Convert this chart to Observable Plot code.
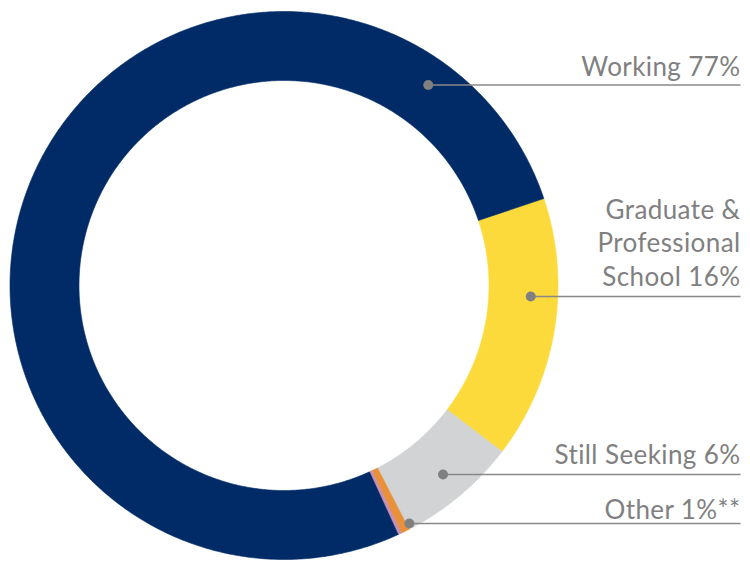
<!DOCTYPE html>
<html>
<head>
<meta charset="utf-8">
<script src="https://cdn.jsdelivr.net/npm/d3@7"></script>
<script src="https://cdn.jsdelivr.net/npm/@observablehq/plot@0.6"></script>
<style>
  html, body { margin: 0; padding: 0; background: #fff; }
  #chart svg { display: block; }
  #chart text { letter-spacing: 0.4px; }
</style>
</head>
<body>
<div id="chart"></div>
<script>
// ---- data ----
const categories = ["Graduate & Professional School", "Still Seeking", "Other", "Other (unspecified)", "Working"];
const shares = [15.5, 7.1, 0.5, 0.2, 76.7];
const sliceColors = ["#FDDA3C", "#D1D3D4", "#E8903A", "#C88DB6", "#002B66"];
const labelTexts = ["Working 77%", "Graduate &\nProfessional\nSchool 16%", "Still Seeking 6%", "Other 1%**"];

// ---- layout ----
const W = 750, H = 562;
const cx = 283.5, cy = 285, rOuter = 274, rInner = 205;
const startDeg = 71.5;
const labelLineY = [84.5, 296, 474, 523];
const labelBaseY = [75, 285, 463, 518];
const dotR = [247, 247, 247, 269];
const lineEndX = 740;

const rad = d => d * Math.PI / 180;
const pt = (a, r) => [cx + r * Math.sin(a), cy - r * Math.cos(a)];

// build ring slice polygons from the shares
const pie = d3.pie().sort(null).value(d => d)
  .startAngle(rad(startDeg)).endAngle(rad(startDeg + 360));
const arcs = pie(shares);
const polys = [];
arcs.forEach((a, i) => {
  const n = Math.max(2, Math.ceil((a.endAngle - a.startAngle) / rad(0.5)));
  const pts = [];
  for (let k = 0; k <= n; k++) pts.push(pt(a.startAngle + (a.endAngle - a.startAngle) * k / n, rOuter));
  for (let k = n; k >= 0; k--) pts.push(pt(a.startAngle + (a.endAngle - a.startAngle) * k / n, rInner));
  pts.push(pts[0]);
  pts.forEach(([x, y]) => polys.push({cat: categories[i], x, y}));
});

// labels with leader lines
const labels = labelTexts.map((t, i) => {
  const ly = labelLineY[i];
  const dx = Math.sqrt(Math.max(0, dotR[i] ** 2 - (ly - cy) ** 2));
  return {text: t, y: ly, base: labelBaseY[i], dotX: cx + dx};
});

const chart = Plot.plot({
  width: W, height: H,
  margin: 0,
  x: {domain: [0, W], range: [0, W], axis: null},
  y: {domain: [0, H], range: [0, H], axis: null},
  color: {domain: categories, range: sliceColors},
  style: {background: "#fff"},
  marks: [
    Plot.line(polys, {x: "x", y: "y", z: "cat", fill: "cat", stroke: "cat", strokeWidth: 0.6, curve: "linear"}),
    Plot.link(labels, {x1: "dotX", x2: () => lineEndX, y1: "y", y2: "y", stroke: "#888888", strokeWidth: 1.6}),
    Plot.dot(labels, {x: "dotX", y: "y", r: 5, fill: "#808080", stroke: "none"}),
    Plot.text(labels, {x: () => lineEndX, y: "base", text: "text", textAnchor: "end", lineAnchor: "bottom",
      lineHeight: 1.27, fontSize: 26, fill: "#808080", fontFamily: "Lato, 'Open Sans', sans-serif"})
  ]
});
document.getElementById("chart").appendChild(chart);
</script>
</body>
</html>
